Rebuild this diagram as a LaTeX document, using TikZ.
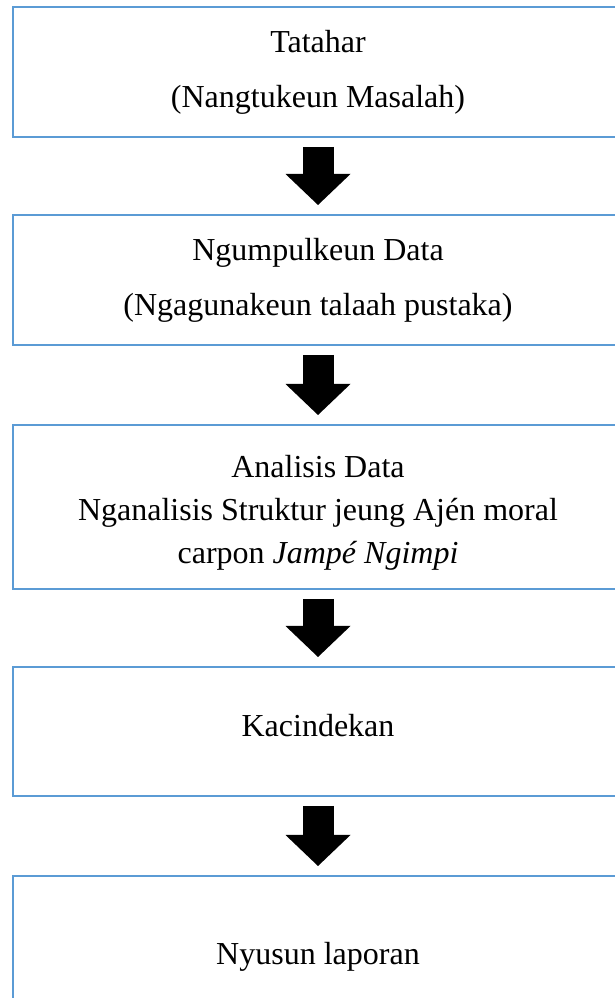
\documentclass[tikz,border=0pt]{standalone}
\usepackage{fontspec}
\setmainfont{Liberation Serif}
\usetikzlibrary{arrows.meta,positioning}
\definecolor{boxblue}{HTML}{5B9BD5}

\begin{document}
\begin{tikzpicture}[x=1pt,y=1pt,
% Box style
stage/.style={rectangle,draw=boxblue,line width=2.5pt,outer sep=0pt,
	inner sep=0pt,minimum width=610pt,minimum height=130pt},
% Text style
txt/.style={align=center,inner sep=0pt,
	font=\fontsize{32}{43}\selectfont},
% Arrow style
flow/.style={line width=31pt,
	-{Triangle[width=65pt,length=31pt,line width=0pt]},
	shorten <=10pt,shorten >=10pt}
]
\useasboundingbox (0,0) rectangle (614,998);
%% Draw boxes
\node (b1) [stage] at (318,926) {};
\node (b2) [stage] at (318,718) {};
\node (b3) [stage,minimum height=164pt] at (318,491) {};
\node (b4) [stage,minimum height=129pt] at (318,266.5) {};
\node (b5) [stage,minimum height=164pt] at (318,40) {};
%% Texts
\node (t1) [txt] at ([yshift=-0.5pt]b1.center) {Tatahar\\[12pt] (Nangtukeun Masalah)};
\node (t2) [txt] at ([yshift=-0.5pt]b2.center) {Ngumpulkeun Data\\[12pt] (Ngagunakeun talaah pustaka)};
\node (t3) [txt] at ([yshift=-6pt]b3.center) {Analisis Data\\ Nganalisis Struktur jeung Aj\'en moral\\
	carpon \textit{Jamp\'e Ngimpi}};
\node (t4) [txt] at ([yshift=6pt]b4.center) {Kacindekan};
\node (t5) [txt] at ([yshift=1pt]b5.center) {Nyusun laporan};
%% Arrows
\draw [flow] (b1.south) -- (b2.north);
\draw [flow] (b2.south) -- (b3.north);
\draw [flow] (b3.south) -- (b4.north);
\draw [flow] (b4.south) -- (b5.north);
\end{tikzpicture}
\end{document}
